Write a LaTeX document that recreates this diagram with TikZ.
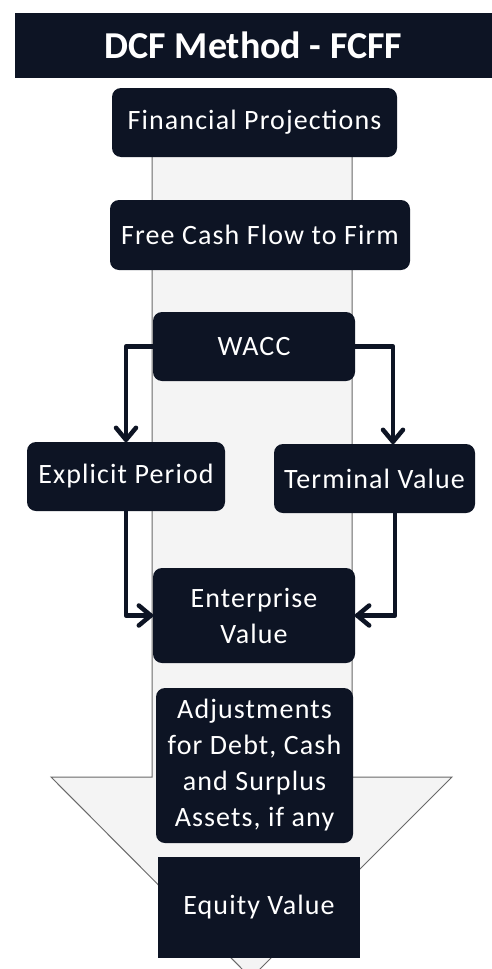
\documentclass[tikz,border=0pt]{standalone}
\usepackage{fontspec}
\setmainfont{Carlito}
\newfontfamily\boxfont[LetterSpace=4]{Carlito}
\definecolor{navy}{RGB}{13,20,36}
\definecolor{bandfill}{RGB}{244,244,244}
\definecolor{bandline}{RGB}{105,105,105}
\tikzset{
  darkbox/.style={fill=navy, text=white, rounded corners=9pt, inner sep=0pt,
    font=\boxfont\fontsize{28}{36}\selectfont, align=center},
  conn/.style={draw=navy, line width=4.5pt, line cap=round, line join=round},
  chev/.style={draw=navy, line width=4.5pt, line cap=round, line join=round}
}
\begin{document}
\begin{tikzpicture}[x=1pt,y=-1pt]
\useasboundingbox (0,0) rectangle (492,969);
\fill[white] (0,0) rectangle (492,969);
\begin{scope}
\clip (0,0) rectangle (492,969);
\filldraw[fill=bandfill, draw=bandline, line width=1pt]
  (152,95) -- (352,95) -- (352,777) -- (452,777) -- (251,978) -- (51,777) -- (152,777) -- cycle;
\end{scope}
\node[fill=navy, text=white, minimum width=477pt, minimum height=65pt, inner sep=0pt,
  font=\bfseries\fontsize{38}{42}\selectfont] (title) at (253.5,45.5) {DCF Method - FCFF};
\node[darkbox, minimum width=285pt, minimum height=69pt] (fp) at (254.5,122.5) {Financial Projections};
\node[darkbox, minimum width=300pt, minimum height=70pt] (fcff) at (260,235) {Free Cash Flow to Firm};
\node[darkbox, minimum width=202pt, minimum height=69pt] (wacc) at (254,346.5) {WACC};
\node[darkbox, minimum width=198pt, minimum height=69pt] (exp) at (126,476.5) {Explicit Period};
\node[darkbox, minimum width=201pt, minimum height=69pt] (tv) at (374.5,478.5) {Terminal Value};
\node[darkbox, minimum width=202pt, minimum height=95pt] (ev) at (254,615.5) {Enterprise\\Value};
\node[darkbox, minimum width=197pt, minimum height=155pt] (adj) at (254.5,765.5) {Adjustments\\for Debt, Cash\\and Surplus\\Assets, if any};
\node[darkbox, rounded corners=0pt, minimum width=202pt, minimum height=101pt] (eq) at (259,907.5) {Equity Value};
% connectors
\draw[conn] (wacc.west) -| ([yshift=2pt]exp.north);
\draw[chev] ([xshift=-10pt,yshift=14pt]exp.north) -- ([yshift=2pt]exp.north) -- ([xshift=10pt,yshift=14pt]exp.north);
\draw[conn] (wacc.east) -| ([xshift=18.5pt,yshift=2pt]tv.north);
\draw[chev] ([xshift=8.5pt,yshift=14pt]tv.north) -- ([xshift=18.5pt,yshift=2pt]tv.north) -- ([xshift=28.5pt,yshift=14pt]tv.north);
\draw[conn] (exp.south) |- ([xshift=-2pt]ev.west);
\draw[chev] ([xshift=-14pt,yshift=10pt]ev.west) -- ([xshift=-2pt]ev.west) -- ([xshift=-14pt,yshift=-10pt]ev.west);
\draw[conn] ([xshift=20.5pt]tv.south) |- ([xshift=2pt]ev.east);
\draw[chev] ([xshift=14pt,yshift=10pt]ev.east) -- ([xshift=2pt]ev.east) -- ([xshift=14pt,yshift=-10pt]ev.east);
\end{tikzpicture}
\end{document}
